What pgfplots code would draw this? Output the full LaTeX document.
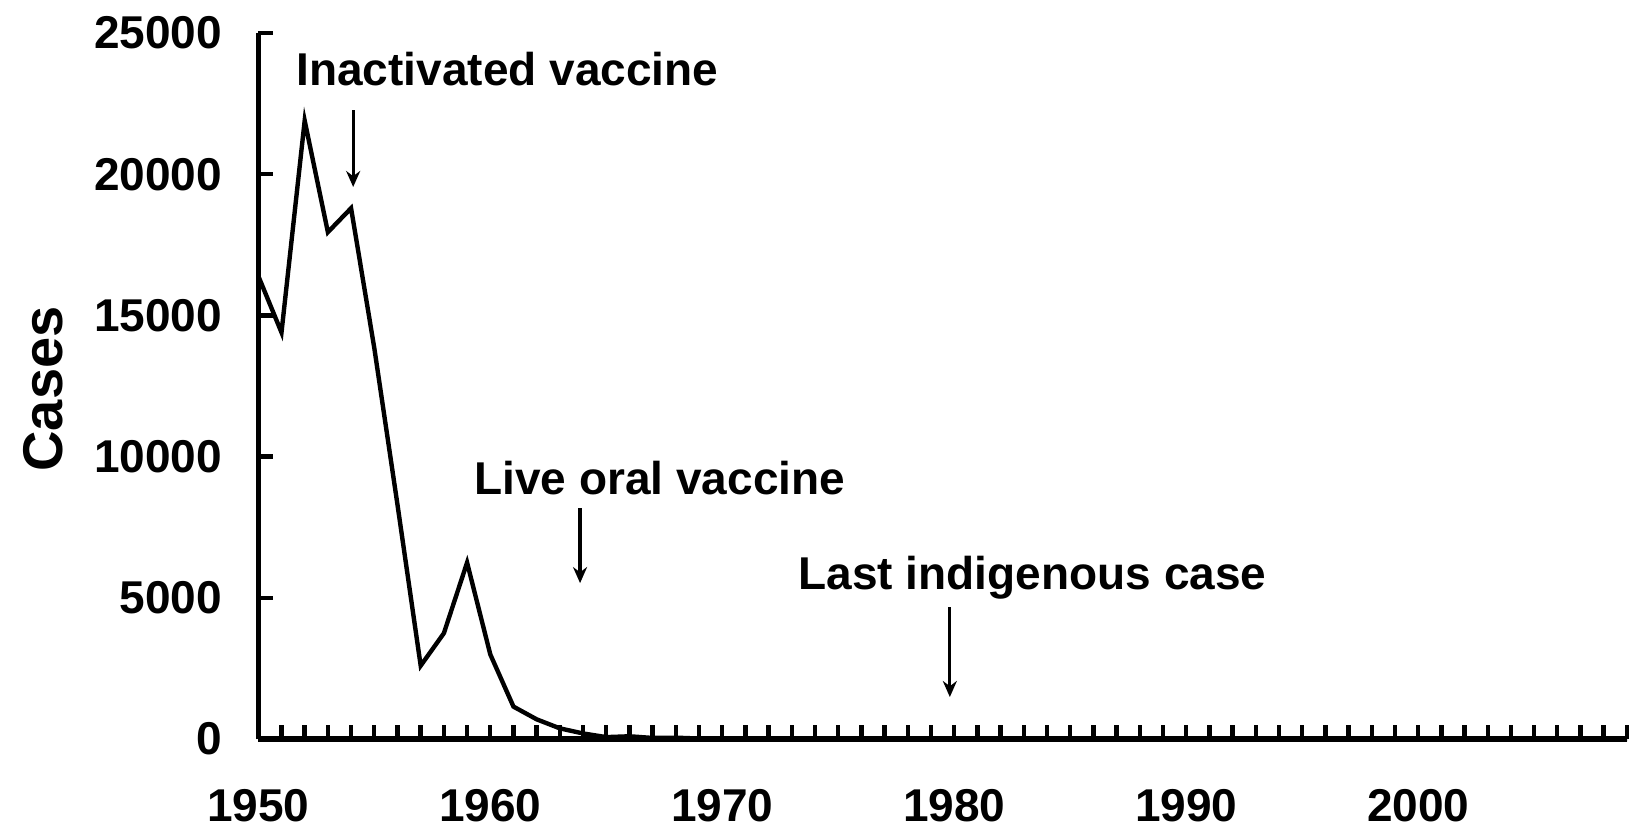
\documentclass[border=0pt]{standalone}
\usepackage{fontspec}
\setmainfont{Liberation Sans}
\usepackage{pgfplots}
\pgfplotsset{compat=1.18}
\usetikzlibrary{arrows.meta}
\begin{document}
\begin{tikzpicture}
\begin{axis}[
  at={(0,0)}, anchor=south west,
  scale only axis,
  width=342.175pt, height=176.5pt,
  xmin=1950, xmax=2009, ymin=0, ymax=25000,
  axis lines=left,
  axis line style={-, line width=1.3pt},
  clip=false,
  tick align=inside,
  xtick={1950,1960,1970,1980,1990,2000},
  minor xtick={1951,1952,...,2009},
  ytick={0,5000,10000,15000,20000,25000},
  major tick length=3.6pt,
  minor tick length=3.4pt,
  every tick/.style={black, line width=1.1pt},
  /pgf/number format/assume math mode=true,
  /pgf/number format/1000 sep={},
  scaled y ticks=false,
  tick label style={font=\bfseries\fontsize{11.5}{13}\selectfont},
  yticklabel style={xshift=-5.5pt},
  xticklabel style={yshift=-9pt},
  ylabel={Cases},
  ylabel style={at={(axis description cs:-0.1573,0.496)}, anchor=center, rotate=0, font=\bfseries\fontsize{14}{16}\selectfont},
]
\addplot[black, line width=1.1pt, mark=none] coordinates {
(1950,16400) (1951,14400) (1952,21900) (1953,17950) (1954,18800)
(1955,13850) (1956,8300) (1957,2600) (1958,3750) (1959,6250)
(1960,3000) (1961,1150) (1962,700) (1963,380) (1964,200)
(1965,70) (1966,100) (1967,40) (1968,50) (1969,20)
(1970,30) (1971,20) (1972,30) (1973,8) (1974,7)
(1975,13) (1976,10) (1977,18) (1978,9) (1979,22)
(1980,9) (1981,10) (1982,8) (1983,13) (1984,9)
(1985,7) (1986,10) (1987,9) (1988,9) (1989,11)
(1990,6) (1991,9) (1992,6) (1993,4) (1994,8)
(1995,7) (1996,7) (1997,6) (1998,3) (1999,2)
(2000,0) (2001,0) (2002,0) (2003,0) (2004,0)
(2005,1) (2006,0) (2007,0) (2008,0) (2009,1)
};
\node[anchor=base, font=\bfseries\fontsize{11.5}{13}\selectfont] at (axis cs:1960.74,23162) {Inactivated vaccine};
\draw[-{Stealth[length=4pt,width=3.5pt]}, line width=0.8pt] (axis cs:1954.09,22274) -- (axis cs:1954.09,19550);
\node[anchor=base, font=\bfseries\fontsize{11.5}{13}\selectfont] at (axis cs:1967.31,8644) {Live oral vaccine};
\draw[-{Stealth[length=4pt,width=3.5pt]}, line width=0.8pt] (axis cs:1963.87,8180) -- (axis cs:1963.87,5524);
\node[anchor=base, font=\bfseries\fontsize{11.5}{13}\selectfont] at (axis cs:1983.37,5280) {Last indigenous case};
\draw[-{Stealth[length=4pt,width=3.5pt]}, line width=0.8pt] (axis cs:1979.81,4677) -- (axis cs:1979.81,1490);
\end{axis}
\pgfresetboundingbox
\path (-64.575pt,-23.975pt) rectangle (345.175pt,184.775pt);
\end{tikzpicture}
\end{document}
